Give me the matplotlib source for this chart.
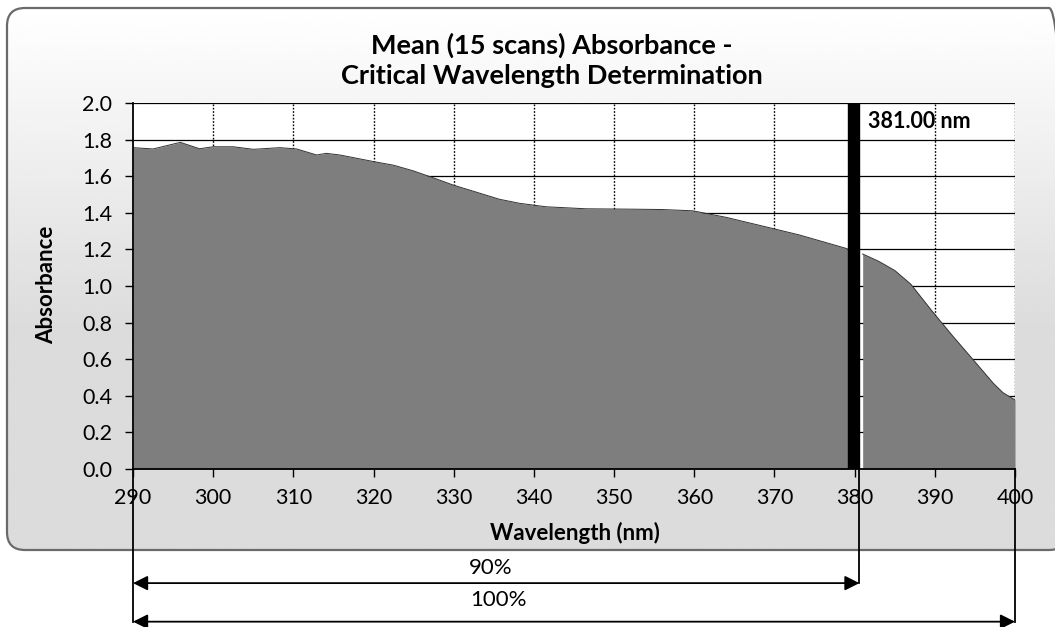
"""Mean absorbance spectrum with critical wavelength marker."""

import matplotlib.pyplot as plt
import numpy as np
from matplotlib.patches import FancyBboxPatch
from matplotlib.transforms import blended_transform_factory

plt.rcParams["font.family"] = ["Lato", "DejaVu Sans"]

# absorbance, split around the critical wavelength bar
wl_left = [290, 292.5, 295.9, 298.3, 300, 302.5, 305, 308.3, 310.4, 312.9,
           314.1, 315.8, 320, 322.5, 324.9, 327.4, 329.9, 335.7, 338.2, 341.5,
           346.5, 352, 356, 359.8, 364, 369.7, 373.1, 378.9, 379.2]
abs_left = [1.756, 1.749, 1.785, 1.75, 1.761, 1.761, 1.747, 1.756, 1.749, 1.716,
            1.725, 1.716, 1.68, 1.66, 1.63, 1.592, 1.552, 1.474, 1.452, 1.433,
            1.422, 1.42, 1.418, 1.411, 1.375, 1.315, 1.279, 1.206, 1.20]
wl_right = [381.0, 383.0, 385.0, 387.0, 389.8, 392.3, 394.8, 397.3, 398.5, 400]
abs_right = [1.175, 1.135, 1.085, 1.01, 0.855, 0.723, 0.596, 0.468, 0.417, 0.377]

crit_band = (379.2, 380.6)
crit_label = "381.00 nm"
x_ticks = list(range(290, 401, 10))
y_ticks = [round(0.2 * i, 1) for i in range(11)]

W, H = 10.55, 6.27
fig = plt.figure(figsize=(W, H), dpi=100)

# background frame (rounded, light grey fading in towards the bottom)
bg = fig.add_axes([0, 0, 1, 1], zorder=-5)
bg.set_xlim(0, W)
bg.set_ylim(0, H)
bg.axis("off")
frame = FancyBboxPatch((0.07, 0.77), 10.6, 5.42,
                       boxstyle="round,pad=0,rounding_size=0.18",
                       facecolor="none", edgecolor="#6a6a6a", lw=1.6)
bg.add_patch(frame)
grad = np.concatenate([np.full(80, 0.86), np.linspace(0.86, 1.0, 120)]).reshape(-1, 1)
img = bg.imshow(np.repeat(grad, 2, axis=1), extent=(0, W, 0.77, 6.19),
                cmap="gray", vmin=0, vmax=1, aspect="auto", origin="lower")
img.set_clip_path(frame)

ax = fig.add_axes([0.1261, 0.252, 0.8360, 0.5837])
ax.set_facecolor("white")
ax.set_axisbelow(True)

ax.fill_between(wl_left, abs_left, 0, color="#7e7e7e", lw=0, zorder=2)
ax.plot(wl_left, abs_left, color="#333333", lw=0.7, zorder=2.5)
ax.fill_between(wl_right, abs_right, 0, color="#7e7e7e", lw=0, zorder=2)
ax.plot(wl_right, abs_right, color="#333333", lw=0.7, zorder=2.5)

ax.axvspan(crit_band[0], crit_band[1], color="black", zorder=3)
ax.text(crit_band[1] + 1.1, 1.9, crit_label, fontsize=15.5, fontweight="bold",
        va="center", ha="left", zorder=4)

ax.set_xlim(290, 400)
ax.set_ylim(0, 2.0)
ax.set_xticks(x_ticks)
ax.set_yticks(y_ticks)
ax.set_yticklabels([f"{v:.1f}" for v in y_ticks])
ax.tick_params(axis="both", direction="out", length=6, width=1, labelsize=15.5)
ax.tick_params(axis="y", pad=9)
ax.tick_params(axis="x", pad=8)
ax.yaxis.grid(True, color="black", lw=0.9)
for x in x_ticks[1:]:
    ax.axvline(x, color="black", lw=1.0, ls=(0, (1.2, 1.2)), zorder=1)
ax.spines["right"].set_visible(False)
ax.spines["top"].set_visible(False)
ax.spines["left"].set_linewidth(1.3)
ax.spines["bottom"].set_linewidth(1.3)

ax.set_xlabel("Wavelength (nm)", fontsize=16, fontweight="bold")
ax.set_ylabel("Absorbance", fontsize=16, fontweight="bold")
ax.xaxis.set_label_coords(0.501, -0.145)
ax.yaxis.set_label_coords(-0.086, 0.503)
fig.text(0.523, 0.903, "Mean (15 scans) Absorbance -\nCritical Wavelength Determination",
         ha="center", va="center", fontsize=19.5, fontweight="bold", linespacing=1.3)

# 90% / 100% span arrows below the chart
tr = blended_transform_factory(ax.transData, fig.transFigure)
y_axis = 0.252
y90, y100 = 0.070, 0.0085
for x, y_end in [(290, y100), (crit_band[1], y90), (400, y100)]:
    ax.plot([x, x], [y_axis, y_end], color="black", lw=1.3,
            transform=tr, clip_on=False)
for x1, y, label, xt, yt in [(crit_band[1], y90, "90%", 334.6, 0.094),
                             (400, y100, "100%", 335.6, 0.043)]:
    ax.annotate("", xy=(x1, y), xytext=(290, y), xycoords=tr, textcoords=tr,
                arrowprops=dict(arrowstyle="<|-|>", color="black", lw=1.3,
                                mutation_scale=22, shrinkA=0, shrinkB=0),
                annotation_clip=False)
    ax.text(xt, yt, label, transform=tr, ha="center", va="center", fontsize=16)

fig.savefig("out.png", dpi=100)
